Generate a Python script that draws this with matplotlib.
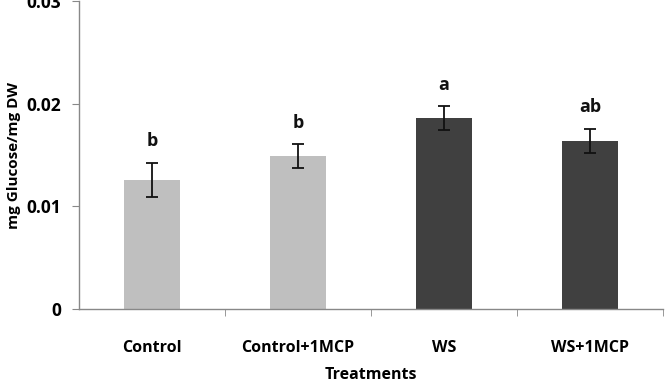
import matplotlib
matplotlib.use("Agg")
import matplotlib.pyplot as plt
import numpy as np

categories = ["Control", "Control+1MCP", "WS", "WS+1MCP"]
values = [0.0126, 0.0149, 0.0186, 0.0164]
errors = [0.00165, 0.00115, 0.00117, 0.00118]
letters = ["b", "b", "a", "ab"]
colors = ["#BFBFBF", "#BFBFBF", "#404040", "#404040"]
yticks = [0, 0.01, 0.02, 0.03]
ytick_labels = ["0", "0.01", "0.02", "0.03"]

plt.rcParams['font.family'] = ['Open Sans', 'DejaVu Sans']

fig = plt.figure(figsize=(6.66, 3.88), dpi=100)
ax = fig.add_axes([79/666, 1 - 309/388, (663-79)/666, 309/388 - 0.003])

x = np.arange(len(categories))
ax.bar(x, values, width=0.39, color=colors, zorder=2)
ax.errorbar(x, values, yerr=errors, fmt='none', ecolor='#111111',
            elinewidth=1.3, capsize=4, capthick=1.3, zorder=3)
for xi, v, e, lab in zip(x, values, errors, letters):
    ax.text(xi, v + e + 0.0012, lab, ha='center', va='bottom',
            fontsize=13, fontweight='bold', color='#111111')

ax.set_xlim(-0.5, len(categories) - 0.5)
ax.set_ylim(0, 0.03)
ax.set_yticks(yticks)
ax.set_yticklabels(ytick_labels, fontsize=12.5, fontweight='bold')
ax.set_xticks(x)
ax.set_xticklabels(categories, fontsize=11.5, fontweight='bold')
ax.tick_params(axis='x', length=0, pad=22)
ax.set_xticks(np.arange(len(categories)) + 0.5, minor=True)
ax.tick_params(axis='x', which='minor', length=5, color='#888888', direction='out')
ax.tick_params(axis='y', length=5, color='#888888', direction='out', pad=8)

for s in ['top', 'right']:
    ax.spines[s].set_visible(False)
for s in ['left', 'bottom']:
    ax.spines[s].set_color('#888888')
    ax.spines[s].set_linewidth(1.0)

ax.set_ylabel("mg Glucose/mg DW", fontsize=11, fontweight='bold', labelpad=4)
ax.set_xlabel("Treatments", fontsize=11.5, fontweight='bold', labelpad=8)

fig.savefig("out.png", dpi=100)
